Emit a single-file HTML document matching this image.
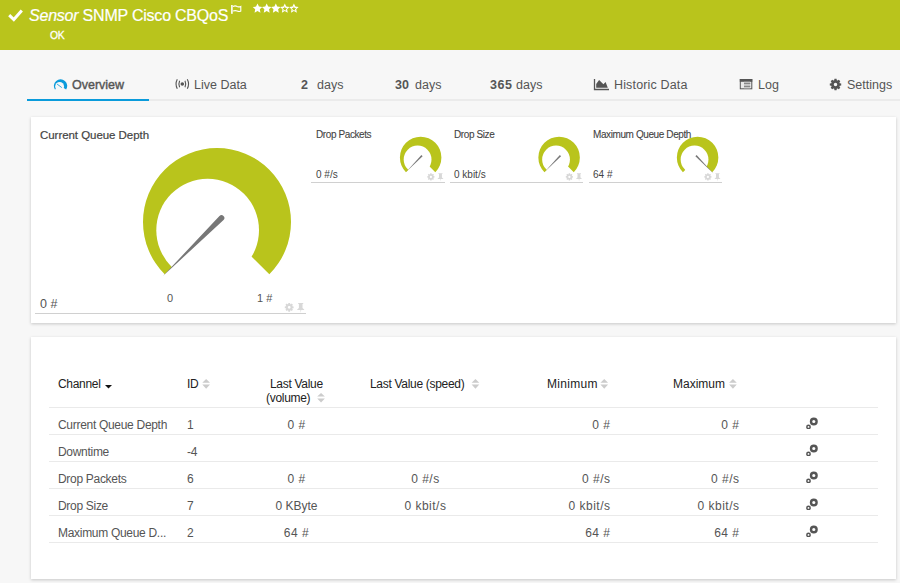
<!DOCTYPE html>
<html><head><meta charset="utf-8">
<style>
*{margin:0;padding:0;box-sizing:border-box}
html,body{width:900px;height:583px;overflow:hidden;background:#f7f7f7;font-family:"Liberation Sans",sans-serif;color:#555;position:relative}
.a{position:absolute;white-space:nowrap;line-height:1}
#hdr{position:absolute;left:0;top:0;width:900px;height:50px;background:#b9c41c}
.title{left:29px;top:8px;font-size:16px;color:#fff;letter-spacing:-0.22px;-webkit-text-stroke:0.2px #fff}
.title i{font-style:italic}
.ok{left:49.5px;top:30px;font-size:11px;font-weight:normal;color:#fff;-webkit-text-stroke:0.3px #fff;letter-spacing:-0.4px;transform:scaleX(0.94);transform-origin:0 0}
.tabline{left:27px;top:99px;width:873px;height:2px;background:#ebebeb}
.tabsel{left:27px;top:99px;width:122px;height:2px;background:#0a9bdb}
.tab{top:79px;font-size:12.5px;color:#555;letter-spacing:0px}
.tab b{font-weight:bold}
.card{position:absolute;background:#fff;box-shadow:0 1px 3px rgba(0,0,0,0.2)}
.ctitle{font-size:11.5px;font-weight:normal;color:#444;letter-spacing:-0.05px;-webkit-text-stroke:0.2px #444}
.th{font-size:12px;color:#222;letter-spacing:-0.3px}
.td{font-size:12px;color:#555;letter-spacing:-0.3px;top:0}
.c{text-align:center;transform:translateX(-50%)}
.r{text-align:right;transform:translateX(-100%)}
.hl{position:absolute;left:49px;width:829px;height:1px;background:#eaeaea}
.mt{font-size:10px;color:#444;letter-spacing:-0.4px;top:130px;-webkit-text-stroke:0.1px #444}
.mv{font-size:10px;color:#444;top:170px}
.ul{position:absolute;height:1px;background:#d0d0d0}
</style></head><body>
<div id="hdr"></div>
<svg class="a" style="left:8px;top:9px" width="15" height="13" viewBox="0 0 15 13"><path d="M1.2 6.2 L5.8 10.6 L13.8 1.6" stroke="#fff" stroke-width="3" fill="none"/></svg>
<div class="a title"><i>Sensor</i> SNMP Cisco CBQoS</div>
<svg class="a" style="left:222px;top:0px" width="28" height="18" viewBox="0 0 28 18"><rect x="9.1" y="5" width="1.6" height="8.8" fill="#fff"/><path d="M11 6.4 Q13.2 5.4 15.2 6.4 Q17.2 7.3 18.8 6.4 V11.1 Q17.2 12 15.2 11.1 Q13.2 10.2 11 11.1" fill="none" stroke="#fff" stroke-width="1.1"/></svg>
<svg class="a" style="left:250px;top:0px" width="52" height="16" viewBox="0 0 52 16"><g fill="#fff" fill-rule="evenodd"><path d="M7.50 3.60 L8.94 6.62 L12.26 7.05 L9.83 9.36 L10.44 12.65 L7.50 11.05 L4.56 12.65 L5.17 9.36 L2.74 7.05 L6.06 6.62 Z"/><path d="M16.70 3.60 L18.14 6.62 L21.46 7.05 L19.03 9.36 L19.64 12.65 L16.70 11.05 L13.76 12.65 L14.37 9.36 L11.94 7.05 L15.26 6.62 Z"/><path d="M25.80 3.60 L27.24 6.62 L30.56 7.05 L28.13 9.36 L28.74 12.65 L25.80 11.05 L22.86 12.65 L23.47 9.36 L21.04 7.05 L24.36 6.62 Z"/><path d="M34.80 3.60 L36.24 6.62 L39.56 7.05 L37.13 9.36 L37.74 12.65 L34.80 11.05 L31.86 12.65 L32.47 9.36 L30.04 7.05 L33.36 6.62 Z M34.80 6.30 L34.15 7.91 L32.42 8.03 L33.75 9.14 L33.33 10.82 L34.80 9.90 L36.27 10.82 L35.85 9.14 L37.18 8.03 L35.45 7.91 Z"/><path d="M43.90 3.60 L45.34 6.62 L48.66 7.05 L46.23 9.36 L46.84 12.65 L43.90 11.05 L40.96 12.65 L41.57 9.36 L39.14 7.05 L42.46 6.62 Z M43.90 6.30 L43.25 7.91 L41.52 8.03 L42.85 9.14 L42.43 10.82 L43.90 9.90 L45.37 10.82 L44.95 9.14 L46.28 8.03 L44.55 7.91 Z"/></g></svg>
<div class="a ok">OK</div>

<div class="a tabline"></div>
<div class="a tabsel"></div>
<svg class="a" style="left:53px;top:78px" width="15" height="13" viewBox="0 0 15 13"><path d="M7.55 8 L1.96 11.6 A6.65 6.65 0 1 1 13.14 11.6 Z" fill="#0a9bdb"/><circle cx="6.6" cy="8.5" r="4.45" fill="#f7f7f7"/><path d="M4.1 6.1 L8.8 9.6" stroke="#0a9bdb" stroke-width="1" opacity="0.85"/></svg>
<div class="a tab" style="left:72px;letter-spacing:0px;-webkit-text-stroke:0.4px #555">Overview</div>
<svg class="a" style="left:175px;top:78px" width="15" height="12" viewBox="0 0 15 12">
<g fill="none" stroke="#555" stroke-width="1.1">
<path d="M2.3 1.2 Q-0.2 6 2.3 10.8"/><path d="M4.6 2.8 Q3.2 6 4.6 9.2"/>
<path d="M12.3 1.2 Q14.8 6 12.3 10.8"/><path d="M10 2.8 Q11.4 6 10 9.2"/>
</g><circle cx="7.3" cy="6" r="1.8" fill="#555"/>
</svg>
<div class="a tab" style="left:194px">Live Data</div>
<div class="a tab" style="left:301px"><b>2</b></div><div class="a tab" style="left:317px">days</div>
<div class="a tab" style="left:395px"><b>30</b></div><div class="a tab" style="left:415px">days</div>
<div class="a tab" style="left:490px;letter-spacing:0.5px"><b>365</b></div><div class="a tab" style="left:516px">days</div>
<svg class="a" style="left:593px;top:78px" width="17" height="13" viewBox="0 0 17 13">
<path d="M1.5 1 V11.5 H16" stroke="#555" stroke-width="1.3" fill="none"/>
<path d="M3.2 9.7 V6 L6.1 2 L10.4 6.3 L12.6 4.1 L14.8 9.7 Z" fill="#555"/>
</svg>
<div class="a tab" style="left:614px;letter-spacing:0.15px">Historic Data</div>
<svg class="a" style="left:739px;top:78px" width="15" height="12" viewBox="0 0 15 12"><rect x="1.3" y="1.5" width="11.5" height="9.3" fill="#e8e8e8" stroke="#555" stroke-width="1"/><rect x="0.8" y="1" width="12.5" height="2.8" fill="#555"/><rect x="5" y="3.8" width="6" height="6.5" fill="#c8c8c8"/><path d="M5 5.4 H11.3 M5 8.4 H11.3" stroke="#777" stroke-width="0.9"/></svg>
<div class="a tab" style="left:758px">Log</div>
<svg class="a" style="left:828.85px;top:77.55px" width="13" height="13" viewBox="0 0 13 13"><path d="M10.69 5.17 L12.21 5.46 L12.21 7.54 L10.69 7.83 L10.57 8.18 L10.41 8.53 L11.27 9.80 L9.80 11.27 L8.53 10.41 L8.18 10.57 L7.83 10.69 L7.54 12.21 L5.46 12.21 L5.17 10.69 L4.82 10.57 L4.47 10.41 L3.20 11.27 L1.73 9.80 L2.59 8.53 L2.43 8.18 L2.31 7.83 L0.79 7.54 L0.79 5.46 L2.31 5.17 L2.43 4.82 L2.59 4.47 L1.73 3.20 L3.20 1.73 L4.47 2.59 L4.82 2.43 L5.17 2.31 L5.46 0.79 L7.54 0.79 L7.83 2.31 L8.18 2.43 L8.53 2.59 L9.80 1.73 L11.27 3.20 L10.41 4.47 L10.57 4.82 Z M8.25 6.50 A1.75 1.75 0 1 0 4.75 6.50 A1.75 1.75 0 1 0 8.25 6.50 Z" fill="#555" fill-rule="evenodd"/></svg>
<div class="a tab" style="left:847px">Settings</div>

<div class="card" style="left:31px;top:117px;width:865px;height:206px"></div>
<div class="card" style="left:31px;top:337px;width:865px;height:242px"></div>

<div class="a ctitle" style="left:40px;top:130px">Current Queue Depth</div>

<!-- gauges overlay -->
<svg class="a" style="left:0;top:0" width="900" height="583" viewBox="0 0 900 583">
<defs>
<g id="gear"><path d="M7.74 3.47 L8.92 3.66 L8.92 5.34 L7.74 5.53 L7.64 5.80 L7.52 6.06 L8.22 7.03 L7.03 8.22 L6.06 7.52 L5.80 7.64 L5.53 7.74 L5.34 8.92 L3.66 8.92 L3.47 7.74 L3.20 7.64 L2.94 7.52 L1.97 8.22 L0.78 7.03 L1.48 6.06 L1.36 5.80 L1.26 5.53 L0.08 5.34 L0.08 3.66 L1.26 3.47 L1.36 3.20 L1.48 2.94 L0.78 1.97 L1.97 0.78 L2.94 1.48 L3.20 1.36 L3.47 1.26 L3.66 0.08 L5.34 0.08 L5.53 1.26 L5.80 1.36 L6.06 1.48 L7.03 0.78 L8.22 1.97 L7.52 2.94 L7.64 3.20 Z M5.90 4.50 A1.4 1.4 0 1 0 3.10 4.50 A1.4 1.4 0 1 0 5.90 4.50 Z" fill-rule="evenodd"/></g>
<g id="pin"><path d="M1 0 H6 V1 H5.3 V5 L7 6.5 V7 H4 L3.6 10 L3.2 7 H0 V6.5 L1.7 5 V1 H1 Z"/></g>
</defs>
<!-- big gauge -->
<path d="M217 222 L164.67 274.33 A74 74 0 1 1 269.33 274.33 Z" fill="#b9c41c"/>
<circle cx="207.65" cy="230.15" r="51.35" fill="#fff"/>
<path d="M223.55 220.05 L163 276 L219.45 215.95 A2.9 2.9 0 0 1 223.55 220.05 Z" fill="#777"/>
<g fill="#d8d8d8"><use href="#gear" x="284.7" y="302.8"/><use href="#pin" x="297.2" y="303"/></g>
<!-- mini 1 -->
<path d="M420.65 157.5 L405.98 172.17 A20.75 20.75 0 1 1 435.32 172.17 Z" fill="#b9c41c"/>
<circle cx="417.6" cy="159.5" r="13.9" fill="#fff"/>
<path d="M422.6 156.3 L406.3 171.8 L421.4 155.1 Z" fill="#777"/>
<g fill="#d8d8d8"><use href="#gear" transform="translate(427.2,173.2) scale(0.82)"/><use href="#pin" transform="translate(437.6,173.3) scale(0.82)"/></g>
<!-- mini 2 -->
<path d="M559.1 157.5 L544.43 172.17 A20.75 20.75 0 1 1 573.77 172.17 Z" fill="#b9c41c"/>
<circle cx="556.05" cy="159.5" r="13.9" fill="#fff"/>
<path d="M561.05 156.3 L544.75 171.8 L559.85 155.1 Z" fill="#777"/>
<g fill="#d8d8d8"><use href="#gear" transform="translate(565.7,173.2) scale(0.82)"/><use href="#pin" transform="translate(576.1,173.3) scale(0.82)"/></g>
<!-- mini 3 -->
<path d="M697.6 157.5 L682.93 172.17 A20.75 20.75 0 1 1 712.27 172.17 Z" fill="#b9c41c"/>
<circle cx="694.55" cy="159.5" r="13.9" fill="#fff"/>
<path d="M695.4 156.3 L713.4 173.4 L696.6 155.1 Z" fill="#777"/>
<g fill="#d8d8d8"><use href="#gear" transform="translate(704.2,173.2) scale(0.82)"/><use href="#pin" transform="translate(714.6,173.3) scale(0.82)"/></g>
<!-- table icons -->
<g id="rowicons" fill="#555"></g>
</svg>

<div class="a" style="left:40px;top:298px;font-size:12.5px;color:#555">0 #</div>
<div class="a" style="left:167px;top:293px;font-size:11px;color:#555">0</div>
<div class="a" style="left:257px;top:293px;font-size:11px;color:#555">1 #</div>
<div class="ul" style="left:35px;top:313px;width:271px"></div>

<div class="a mt" style="left:316px">Drop Packets</div>
<div class="a mv" style="left:316px">0 #/s</div>
<div class="ul" style="left:311px;top:182px;width:134px"></div>
<div class="a mt" style="left:454px">Drop Size</div>
<div class="a mv" style="left:454px">0 kbit/s</div>
<div class="ul" style="left:450px;top:182px;width:133px"></div>
<div class="a mt" style="left:593px">Maximum Queue Depth</div>
<div class="a mv" style="left:593px">64 #</div>
<div class="ul" style="left:589px;top:182px;width:133px"></div>

<!-- table -->
<div class="a th" style="left:58px;top:378px">Channel</div>
<svg class="a" style="left:105px;top:385px" width="8" height="4"><path d="M0 0 H7 L3.5 3.5 Z" fill="#111"/></svg>
<div class="a th" style="left:187px;top:378px">ID</div>
<div class="a th" style="left:270px;top:378px">Last Value</div><div class="a th" style="left:266px;top:392px">(volume)</div>
<div class="a th" style="left:370px;top:378px">Last Value (speed)</div>
<div class="a th" style="left:547px;top:378px;letter-spacing:0.3px">Minimum</div>
<div class="a th" style="left:673px;top:378px;letter-spacing:0px">Maximum</div>
<svg class="a" style="left:0;top:0" width="900" height="583">
<defs><path id="so" d="M0 3.6 L3.85 0 L7.7 3.6 Z M0 5.5 H7.7 L3.85 9.6 Z"/></defs>
<g fill="#ccc">
<use href="#so" x="202.3" y="379.1"/>
<use href="#so" x="317.2" y="393"/>
<use href="#so" x="471.6" y="379.1"/>
<use href="#so" x="600.4" y="379.1"/>
<use href="#so" x="729.1" y="379.1"/>
</g>
</svg>

<div class="a hl" style="top:407px"></div>
<div class="a hl" style="top:434px"></div>
<div class="a hl" style="top:461px"></div>
<div class="a hl" style="top:488px"></div>
<div class="a hl" style="top:515px"></div>
<div class="a hl" style="top:542px"></div>

<div class="a td" style="left:58px;top:419px">Current Queue Depth</div>
<div class="a td" style="left:187px;top:419px">1</div>
<div class="a td c" style="letter-spacing:0.5px;left:296.5px;top:419px">0 #</div>
<div class="a td r" style="letter-spacing:0.5px;left:610.5px;top:419px">0 #</div>
<div class="a td r" style="letter-spacing:0.5px;left:739.5px;top:419px">0 #</div>
<svg class="a" style="left:804px;top:415.3px" width="16" height="14" viewBox="0 0 16 14"><circle cx="9.8" cy="6.5" r="2.8" fill="none" stroke="#555" stroke-width="2.4"/><circle cx="4.5" cy="11.9" r="1.65" fill="none" stroke="#555" stroke-width="1.5"/></svg>
<div class="a td" style="left:58px;top:446px">Downtime</div>
<div class="a td" style="left:187px;top:446px">-4</div>
<svg class="a" style="left:804px;top:442.3px" width="16" height="14" viewBox="0 0 16 14"><circle cx="9.8" cy="6.5" r="2.8" fill="none" stroke="#555" stroke-width="2.4"/><circle cx="4.5" cy="11.9" r="1.65" fill="none" stroke="#555" stroke-width="1.5"/></svg>
<div class="a td" style="left:58px;top:473px">Drop Packets</div>
<div class="a td" style="left:187px;top:473px">6</div>
<div class="a td c" style="letter-spacing:0.5px;left:296.5px;top:473px">0 #</div>
<div class="a td c" style="letter-spacing:0.5px;left:425.4px;top:473px">0 #/s</div>
<div class="a td r" style="letter-spacing:0.5px;left:610.5px;top:473px">0 #/s</div>
<div class="a td r" style="letter-spacing:0.5px;left:739.5px;top:473px">0 #/s</div>
<svg class="a" style="left:804px;top:469.3px" width="16" height="14" viewBox="0 0 16 14"><circle cx="9.8" cy="6.5" r="2.8" fill="none" stroke="#555" stroke-width="2.4"/><circle cx="4.5" cy="11.9" r="1.65" fill="none" stroke="#555" stroke-width="1.5"/></svg>
<div class="a td" style="left:58px;top:500px">Drop Size</div>
<div class="a td" style="left:187px;top:500px">7</div>
<div class="a td c" style="letter-spacing:0px;left:296.5px;top:500px">0 KByte</div>
<div class="a td c" style="letter-spacing:0.5px;left:425.4px;top:500px">0 kbit/s</div>
<div class="a td r" style="letter-spacing:0.5px;left:610.5px;top:500px">0 kbit/s</div>
<div class="a td r" style="letter-spacing:0.5px;left:739.5px;top:500px">0 kbit/s</div>
<svg class="a" style="left:804px;top:496.3px" width="16" height="14" viewBox="0 0 16 14"><circle cx="9.8" cy="6.5" r="2.8" fill="none" stroke="#555" stroke-width="2.4"/><circle cx="4.5" cy="11.9" r="1.65" fill="none" stroke="#555" stroke-width="1.5"/></svg>
<div class="a td" style="left:58px;top:527px">Maximum Queue D...</div>
<div class="a td" style="left:187px;top:527px">2</div>
<div class="a td c" style="letter-spacing:0.5px;left:296.5px;top:527px">64 #</div>
<div class="a td r" style="letter-spacing:0.5px;left:610.5px;top:527px">64 #</div>
<div class="a td r" style="letter-spacing:0.5px;left:739.5px;top:527px">64 #</div>
<svg class="a" style="left:804px;top:523.3px" width="16" height="14" viewBox="0 0 16 14"><circle cx="9.8" cy="6.5" r="2.8" fill="none" stroke="#555" stroke-width="2.4"/><circle cx="4.5" cy="11.9" r="1.65" fill="none" stroke="#555" stroke-width="1.5"/></svg>
</body></html>
